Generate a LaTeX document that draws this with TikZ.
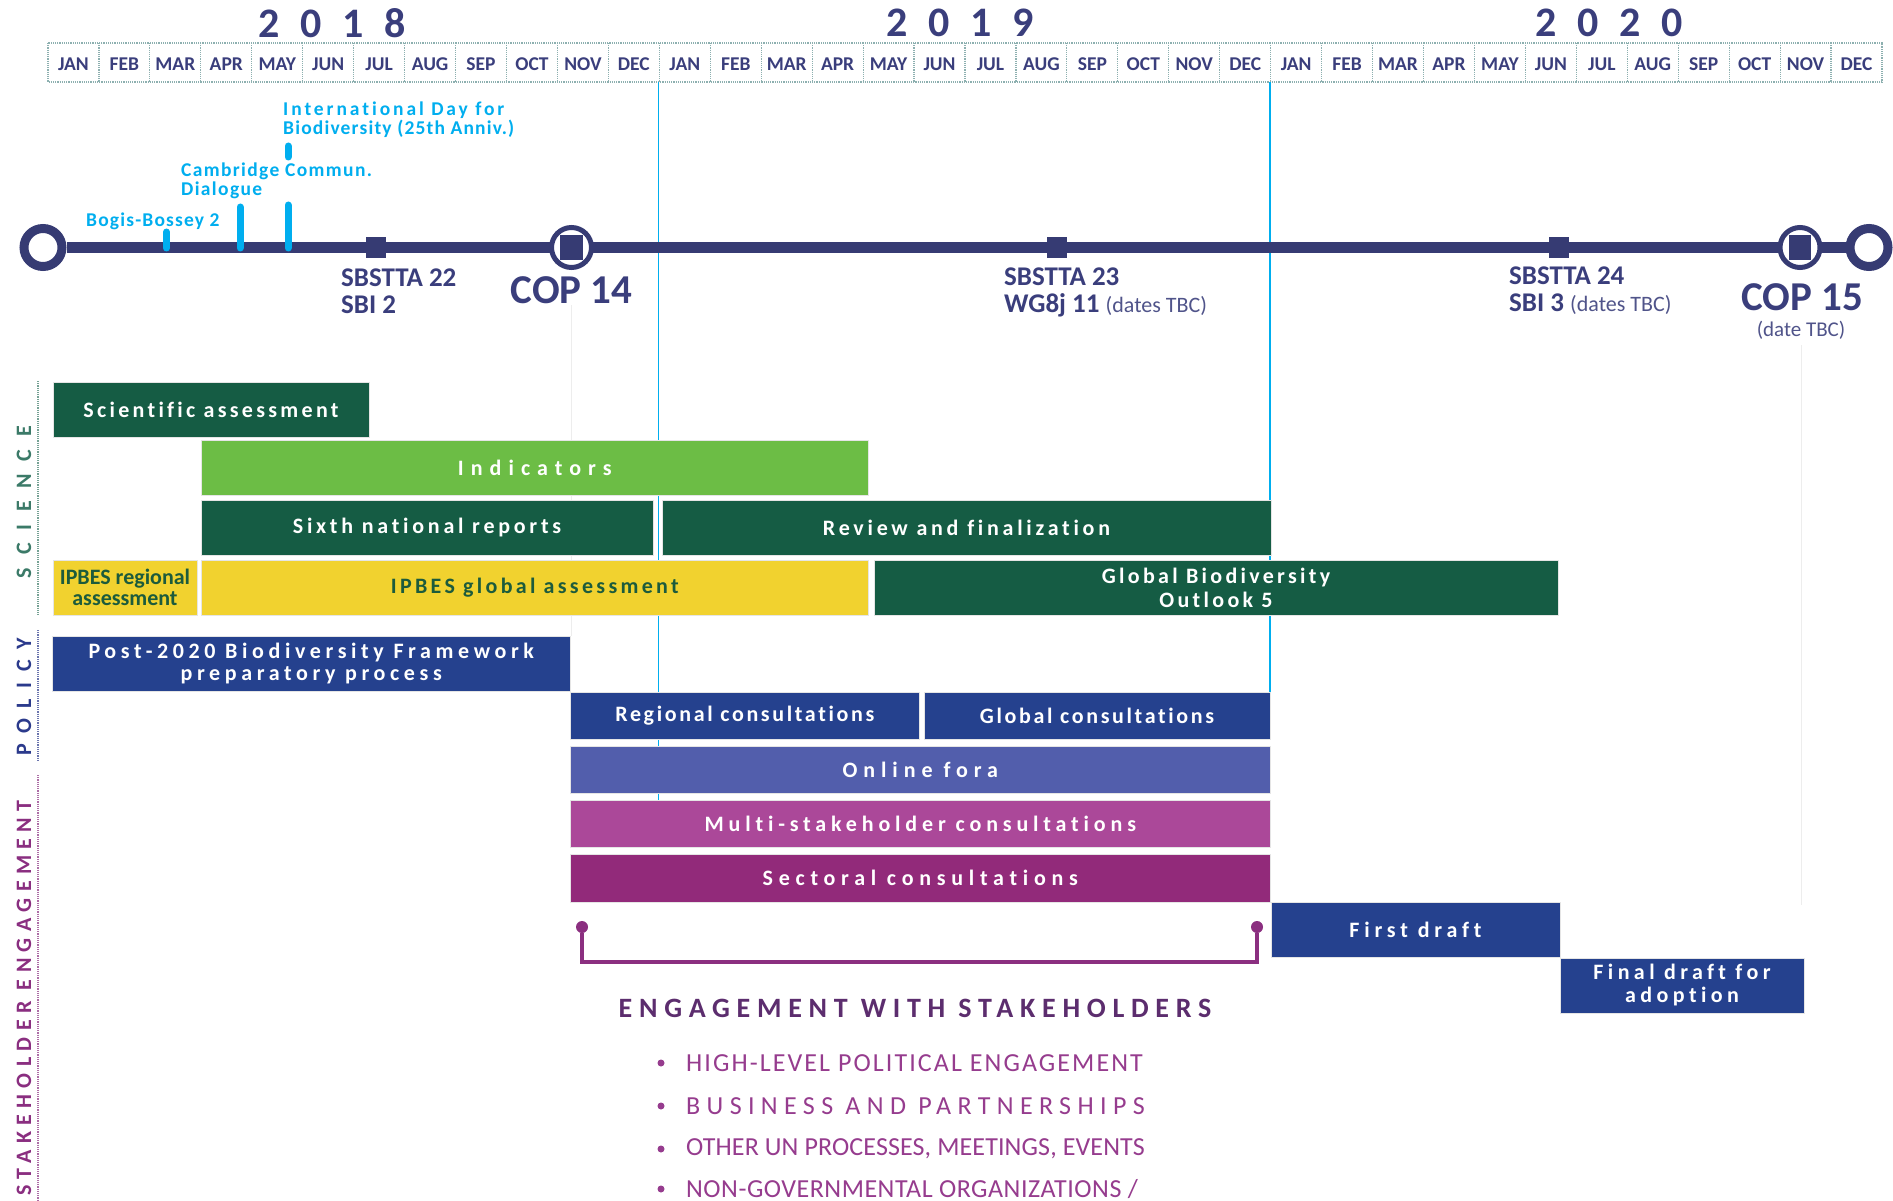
\documentclass[tikz,border=0pt]{standalone}
\usepackage{fontspec}
\setmainfont{Carlito}[Ligatures={NoCommon}]
\definecolor{navy}{HTML}{363B73}
\definecolor{navytxt}{HTML}{3A3E7C}
\definecolor{dates}{HTML}{50548A}
\definecolor{gridc}{HTML}{8DB0B0}
\definecolor{cyanc}{HTML}{00AEEF}
\definecolor{dkgreen}{HTML}{155C44}
\definecolor{ltgreen}{HTML}{6CBD45}
\definecolor{yel}{HTML}{F1D22F}
\definecolor{ytext}{HTML}{1C5B3C}
\definecolor{barblue}{HTML}{25418E}
\definecolor{fora}{HTML}{525EAC}
\definecolor{multi}{HTML}{AB4899}
\definecolor{sector}{HTML}{922A7A}
\definecolor{brk}{HTML}{8B2F80}
\definecolor{headc}{HTML}{5C2D6E}
\definecolor{itemc}{HTML}{963C8E}
\definecolor{scic}{HTML}{3B7A68}
\definecolor{polc}{HTML}{2B3A8C}
\definecolor{stkc}{HTML}{8A2E80}
\newcommand{\ls}[2]{{\addfontfeature{LetterSpace=#1}#2}}
\newcommand{\fs}[2]{\fontsize{#1}{#2}\selectfont}
\newcommand{\gbar}[7]{\node[bar,#6,minimum width={#4pt-#2pt},minimum height={#5pt-#3pt}] (#1) at (#2,#3) {#7};}
\begin{document}
\begin{tikzpicture}[x=1pt,y=-1pt,
 bar/.style={rectangle, draw=black!10, line width=0.8pt, inner sep=0pt, outer sep=0pt, anchor=north west, text=white, align=center, font=\fs{22}{23}\bfseries},
 month/.style={font=\fs{19.5}{20}\bfseries, text=navytxt, inner sep=0pt},
 year/.style={font=\fs{42}{42}\bfseries, text=navytxt, inner sep=0pt},
 gridl/.style={gridc, densely dotted, line width=1.2pt},
 endring/.style={circle, draw=navy, line width=9pt, fill=white, minimum size=38pt, inner sep=0pt},
 copring/.style={circle, draw=navy, line width=5pt, fill=white, minimum size=40pt, inner sep=0pt},
 sq/.style={rectangle, fill=navy, inner sep=0pt, minimum width=20pt, minimum height=20pt},
 tline/.style={navy, line width=11pt},
 tickc/.style={cyanc, line width=7pt, line cap=round},
 cyanlbl/.style={font=\fs{19.5}{18.5}\bfseries, text=cyanc, inner sep=0pt, anchor=west, align=left},
 meet/.style={font=\fs{27}{27}\bfseries, text=navytxt, inner sep=0pt, anchor=west, align=left},
 cop/.style={font=\fs{41}{41}\bfseries, text=navytxt, inner sep=0pt},
 side/.style={font=\fs{22}{22}\bfseries, inner sep=0pt, rotate=90},
 sidel/.style={densely dotted, line width=1.2pt},
 vguide/.style={cyanc, line width=1.2pt},
 faint/.style={black!7, line width=1pt},
 bdot/.style={circle, fill=brk, minimum size=12pt, inner sep=0pt},
 brkline/.style={brk, line width=3.5pt},
 heading/.style={font=\fs{28}{28}\bfseries, text=headc, inner sep=0pt},
 item/.style={font=\fs{26}{26}, text=itemc, inner sep=0pt, anchor=west},
 bul/.style={circle, fill=itemc, minimum size=7pt, inner sep=0pt}
]
\fill[white] (0,0) rectangle (1893,1201);
\useasboundingbox (0,0) rectangle (1893,1201);

% years
\node[year] (y2018) at (332,23) {\makebox[147pt][s]{2 0 1 8}};
\node[year] (y2019) at (960,23) {\makebox[147pt][s]{2 0 1 9}};
\node[year] (y2020) at (1609,23) {\makebox[147pt][s]{2 0 2 0}};

% month grid
\draw[gridl] (48,43) rectangle (1882,82);
\foreach \i in {1,...,35} \draw[gridl] ({48+50.944*\i},43) -- ({48+50.944*\i},82);
\foreach \yr in {0,1,2}{
  \foreach \mn [count=\k from 0] in {JAN,FEB,MAR,APR,MAY,JUN,JUL,AUG,SEP,OCT,NOV,DEC}{
    \node[month] (m\yr-\k) at ({48+50.944*(12*\yr+\k+0.5)},64) {\mn};
  }
}

% guide lines
\draw[vguide] (658.5,82) -- (658.5,800);
\draw[vguide] (1270,82) -- (1270,692);
\draw[faint] (571.5,305) -- (571.5,636);
\draw[faint] (1801,345) -- (1801,905);

% timeline
\node[endring] (tstart) at (43,247.5) {};
\node[endring] (tend) at (1869,247.5) {};
\draw[tline] (tstart) -- (tend);
\draw[tickc] (166.5,232) -- (166.5,248);
\draw[tickc] (240,207) -- (240,248);
\draw[tickc] (288,205) -- (288,248);
\draw[tickc] (288,146) -- (288,157);
\node[sq] (s22) at (376,247.5) {};
\node[sq] (s23) at (1057,247.5) {};
\node[sq] (s24) at (1559,247.5) {};
\node[copring] (cop14) at (571.5,247.5) {};
\node[sq, minimum width=23pt, minimum height=24pt] (cop14sq) at (cop14) {};
\node[copring] (cop15) at (1800,247.5) {};
\node[sq, minimum width=22pt, minimum height=24pt] (cop15sq) at (cop15) {};

% timeline labels
\node[cyanlbl] (bogis) at (86,221) {\ls{6}{Bogis-Bossey 2}};
\node[cyanlbl] (camb) at (181,181) {\ls{7}{Cambridge Commun.}\\\ls{7}{Dialogue}};
\node[cyanlbl] (intl) at (283,119.5) {\ls{15}{International Day for}\\\ls{6}{Biodiversity (25th Anniv.)}};
\node[meet] (l22) at (341,291) {SBSTTA 22\\SBI 2};
\node[cop] (l14) at (571.5,290) {COP 14};
\node[meet] (l23) at (1004,292) {SBSTTA 23\\WG8j 11 {\fs{22}{27}\mdseries\color{dates}(dates TBC)}};
\node[meet] (l24) at (1509,291) {SBSTTA 24\\SBI 3 {\fs{22}{27}\mdseries\color{dates}(dates TBC)}};
\node[cop] (l15) at (1802,297) {COP 15};
\node[font=\fs{21}{21}, text=dates, inner sep=0pt] (l15d) at (1801,330) {(date TBC)};

% side labels
\draw[sidel, scic!70] (38,381) -- (38,616);
\draw[sidel, polc!70] (38,630) -- (38,762);
\draw[sidel, stkc!70] (38,775) -- (38,1201);
\node[side, text=scic] (science) at (24,502) {\ls{58}{SCIENCE}};
\node[side, text=polc] (policy) at (24,697) {\ls{48}{POLICY}};
\node[side, text=stkc] (stake) at (24,998) {\ls{29}{STAKEHOLDER ENGAGEMENT}};

% bars
\gbar{sciass}{53}{382}{369}{437}{fill=dkgreen}{\ls{15}{Scientific assessment}}
\gbar{indic}{201}{440}{868.5}{495}{fill=ltgreen}{\ls{32}{Indicators}}
\gbar{sixth}{201}{500}{653}{555}{fill=dkgreen}{\ls{17}{Sixth national reports}}
\gbar{review}{662}{500}{1271}{555}{fill=dkgreen}{\ls{17}{Review and finalization}}
\gbar{ipbesr}{53}{560}{197}{615}{fill=yel,text=ytext,font=\fs{22}{21}\bfseries}{IPBES regional\\assessment}
\gbar{ipbesg}{201}{560}{868.5}{615}{fill=yel,text=ytext}{\ls{15}{IPBES global assessment}}
\gbar{gbo}{874}{560}{1558}{615}{fill=dkgreen,font=\fs{22}{24}\bfseries}{\ls{15}{Global Biodiversity}\\\ls{15}{Outlook 5}}
\gbar{post}{52}{636}{570.5}{691}{fill=barblue,font=\fs{22}{22}\bfseries}{\ls{21}{Post-2020 Biodiversity Framework}\\\ls{21}{preparatory process}}
\gbar{regc}{570.5}{692}{919}{739}{fill=barblue}{\ls{12}{Regional consultations}}
\gbar{globc}{924}{692}{1270}{739}{fill=barblue}{\ls{12}{Global consultations}}
\gbar{online}{570.5}{746}{1270}{793}{fill=fora}{\ls{27}{Online fora}}
\gbar{multis}{570.5}{800}{1270}{847}{fill=multi}{\ls{22}{Multi-stakeholder consultations}}
\gbar{sect}{570.5}{854}{1270}{902}{fill=sector}{\ls{26}{Sectoral consultations}}
\gbar{first}{1271}{902}{1560}{957}{fill=barblue}{\ls{22}{First draft}}
\gbar{final}{1560}{958}{1804}{1013}{fill=barblue}{\ls{20}{Final draft for}\\\ls{20}{adoption}}

% bracket
\node[bdot] (bd1) at (582,927) {};
\node[bdot] (bd2) at (1257,927) {};
\coordinate (bcorner) at (582,962);
\draw[brkline] (bd1) -- (bcorner) -| (bd2);

% engagement list
\node[heading] (eng) at (915,1008) {\ls{24}{ENGAGEMENT WITH STAKEHOLDERS}};
\node[bul] (b1) at (661,1063) {};
\node[item] (i1) at (686,1063) {\ls{8}{HIGH-LEVEL POLITICAL ENGAGEMENT}};
\node[bul] (b2) at (661,1106) {};
\node[item] (i2) at (686,1106) {\ls{24.5}{BUSINESS AND PARTNERSHIPS}};
\node[bul] (b3) at (661,1149) {};
\node[item] (i3) at (686,1149) {\ls{0.5}{OTHER UN PROCESSES, MEETINGS, EVENTS}};
\node[bul] (b4) at (661,1189) {};
\node[item] (i4) at (686,1189) {\ls{2}{NON-GOVERNMENTAL ORGANIZATIONS /}};
\end{tikzpicture}
\end{document}
